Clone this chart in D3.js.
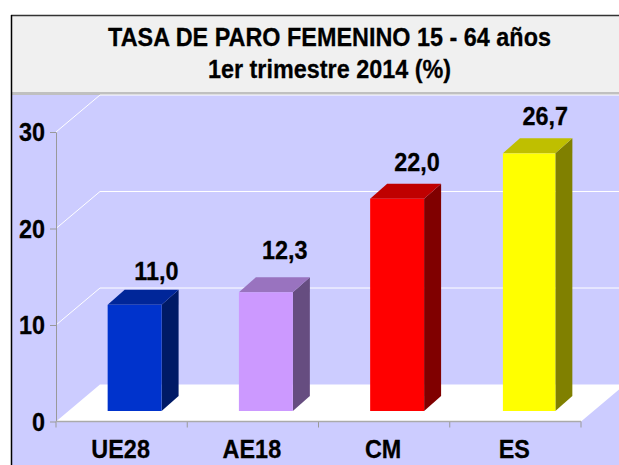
<!DOCTYPE html>
<html><head><meta charset="utf-8">
<script src="https://cdn.jsdelivr.net/npm/d3@7"></script>
<style>html,body{margin:0;padding:0;background:#fff;overflow:hidden}svg{display:block}
text{font-family:"Liberation Sans",Arial,sans-serif;font-weight:bold;fill:#000;stroke:#000;stroke-width:.25px}</style></head>
<body><script>
const categories = ["UE28","AE18","CM","ES"];
const values = [11.0,12.3,22.0,26.7];
const labels = ["11,0","12,3","22,0","26,7"];
const yTicks = [0,10,20,30];
const titleLines = ["TASA DE PARO FEMENINO 15 - 64 años","1er trimestre 2014 (%)"];
const frontColors = ["#0033CC","#CC99FF","#FF0000","#FFFF00"];
const topColors = ["#002699","#9973BF","#BF0000","#BFBF00"];
const sideColors = ["#001A66","#664D80","#800000","#808000"];

const W=619,H=465, SX=0.975, SY=1.08, FS=24;
const svg=d3.select("body").append("svg").attr("width",W).attr("height",H);
const y=d3.scaleLinear().domain([0,30]).range([421.5,132]);
const x=d3.scaleBand().domain(categories).range([56,581]).paddingInner(0.589).paddingOuter(0.2945);
const depthX=44, depthY=37, barDX=17, barDY=15, barShiftX=13, barShiftY=10.5;
const labelOffX=[21.7,19,20,17], labelOffY=[25,33.5,28,28], barInset=[0,0,0,1.5];

// panel
svg.append("rect").attr("x",12).attr("y",16).attr("width",W-12).attr("height",H-16).attr("fill","#CCCCFF");
svg.append("rect").attr("x",12).attr("y",16).attr("width",W-12).attr("height",76).attr("fill","#F0F0F0");
svg.append("rect").attr("x",12).attr("y",92).attr("width",W-12).attr("height",3).attr("fill","#C0C0C0");
svg.append("line").attr("x1",11).attr("x2",W).attr("y1",15.5).attr("y2",15.5).attr("stroke","#333").attr("stroke-width",1.5);
svg.append("line").attr("x1",11.5).attr("x2",11.5).attr("y1",15).attr("y2",H).attr("stroke","#000").attr("stroke-width",1.5);

// title
svg.selectAll("text.title").data(titleLines).join("text").attr("class","title")
  .attr("text-anchor","middle").attr("font-size",FS)
  .attr("transform",(d,i)=>`translate(329.5,${i?78:46}) scale(${SX},${SY})`).text(d=>d);

// floor
svg.append("path").attr("fill","#fff").attr("d",d3.line()([
  [56,y(0)],[581,y(0)],[581+depthX,y(0)-depthY],[56+depthX,y(0)-depthY]]));

// grid
svg.selectAll("path.grid").data(yTicks.slice(1)).join("path").attr("class","grid")
  .attr("fill","none").attr("stroke","#fff").attr("stroke-width",1)
  .attr("d",t=>d3.line()([[56,y(t)],[56+depthX,y(t)-depthY],[W,y(t)-depthY]]));

// axes
const gy=svg.append("g").attr("transform","translate(56,0)").call(d3.axisLeft(y).tickValues(yTicks).tickSize(6).tickSizeOuter(0));
gy.select(".domain").attr("stroke","#999").attr("stroke-width",1);
gy.selectAll(".tick line").attr("stroke","#999");
gy.selectAll(".tick text").attr("font-size",FS).attr("font-family",'"Liberation Sans"').attr("dy",null)
  .attr("x",0).attr("y",0).attr("transform",`translate(-11,8.5) scale(${SX},${SY})`);

const edges=d3.scaleLinear().domain([0,categories.length]).range(x.range());
svg.selectAll("line.xt").data(d3.range(categories.length+1)).join("line").attr("class","xt")
  .attr("x1",i=>edges(i)).attr("x2",i=>edges(i)).attr("y1",y(0)).attr("y2",y(0)+6).attr("stroke","#999");
svg.append("line").attr("x1",56).attr("x2",581).attr("y1",y(0)).attr("y2",y(0)).attr("stroke","#aaa").attr("stroke-width",1.5);
svg.selectAll("text.cat").data(categories).join("text").attr("class","cat")
  .attr("text-anchor","middle").attr("font-size",FS)
  .attr("transform",d=>`translate(${x(d)+x.bandwidth()/2-1},458) scale(${SX},${SY})`).text(d=>d);

// bars
const bars=svg.selectAll("g.bar").data(categories).join("g").attr("class","bar");
const bw=x.bandwidth();
bars.each(function(c,i){
  const g=d3.select(this), l0=x(c)+barShiftX, l=l0+barInset[i], r=l0+bw, b=y(0)-barShiftY, t=y(values[i])-barShiftY;
  const line=d3.line();
  g.append("path").attr("fill",sideColors[i]).attr("d",line([[r,t],[r+barDX,t-barDY],[r+barDX,b-barDY],[r,b]])+"Z");
  g.append("path").attr("fill",topColors[i]).attr("d",line([[l,t],[r,t],[r+barDX,t-barDY],[l+barDX,t-barDY]])+"Z");
  g.append("rect").attr("x",l).attr("y",t).attr("width",r-l).attr("height",b-t).attr("fill",frontColors[i]);
  g.append("text").attr("text-anchor","middle").attr("font-size",FS)
    .attr("transform",`translate(${l0+bw/2+labelOffX[i]},${t-labelOffY[i]}) scale(${SX},${SY})`).text(labels[i]);
});
</script></body></html>
